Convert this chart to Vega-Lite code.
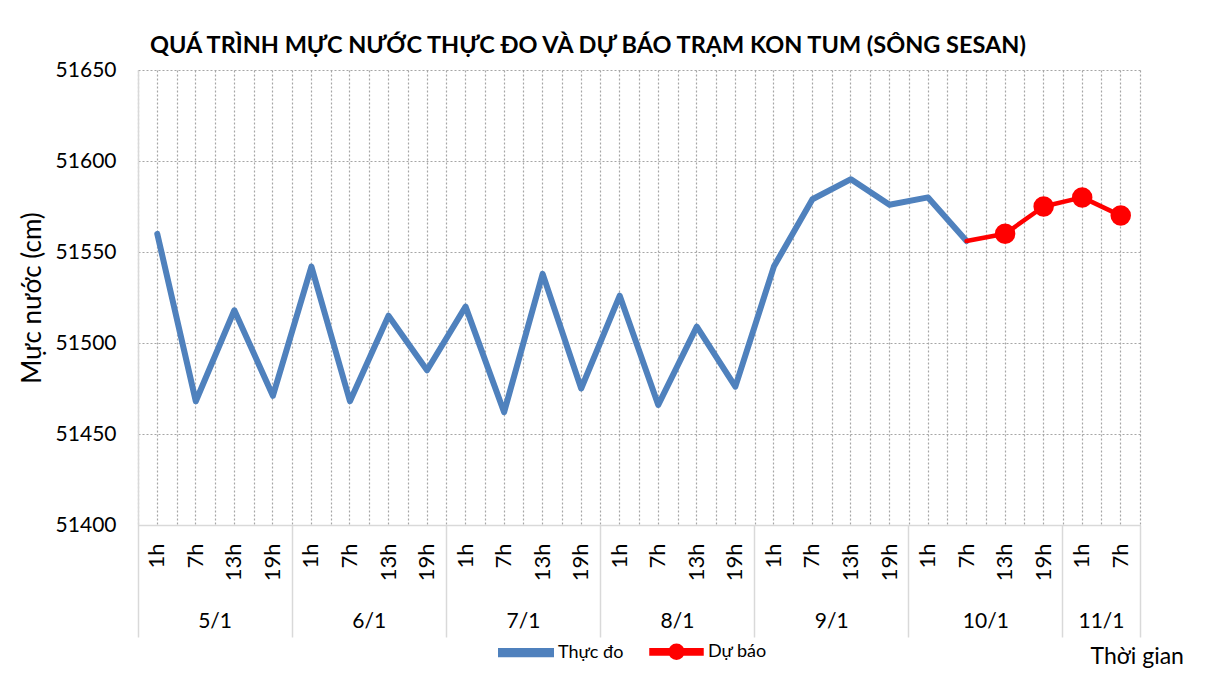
{
  "$schema": "https://vega.github.io/schema/vega-lite/v6.json",
  "autosize": {"type": "none"},
  "width": 1002,
  "height": 455,
  "padding": {"left": 138, "top": 70, "right": 72, "bottom": 150},
  "background": "#ffffff",
  "config": {
    "font": "Lato",
    "view": {"stroke": null},
    "axis": {"labelColor": "#000000", "titleColor": "#000000"}
  },
  "title": {
    "text": "QUÁ TRÌNH MỰC NƯỚC THỰC ĐO VÀ DỰ BÁO TRẠM KON TUM (SÔNG SESAN)",
    "anchor": "start",
    "frame": "group",
    "dx": 12,
    "offset": 2,
    "fontSize": 23.5,
    "font": "Lato",
    "fontWeight": "bold",
    "color": "#000000"
  },
  "data": {
    "values": [
      {"key": "5/1 1h", "series": "Thực đo", "value": 51560},
      {"key": "5/1 7h", "series": "Thực đo", "value": 51468},
      {"key": "5/1 13h", "series": "Thực đo", "value": 51518},
      {"key": "5/1 19h", "series": "Thực đo", "value": 51471},
      {"key": "6/1 1h", "series": "Thực đo", "value": 51542},
      {"key": "6/1 7h", "series": "Thực đo", "value": 51468},
      {"key": "6/1 13h", "series": "Thực đo", "value": 51515},
      {"key": "6/1 19h", "series": "Thực đo", "value": 51485},
      {"key": "7/1 1h", "series": "Thực đo", "value": 51520},
      {"key": "7/1 7h", "series": "Thực đo", "value": 51462},
      {"key": "7/1 13h", "series": "Thực đo", "value": 51538},
      {"key": "7/1 19h", "series": "Thực đo", "value": 51475},
      {"key": "8/1 1h", "series": "Thực đo", "value": 51526},
      {"key": "8/1 7h", "series": "Thực đo", "value": 51466},
      {"key": "8/1 13h", "series": "Thực đo", "value": 51509},
      {"key": "8/1 19h", "series": "Thực đo", "value": 51476},
      {"key": "9/1 1h", "series": "Thực đo", "value": 51542},
      {"key": "9/1 7h", "series": "Thực đo", "value": 51579},
      {"key": "9/1 13h", "series": "Thực đo", "value": 51590},
      {"key": "9/1 19h", "series": "Thực đo", "value": 51576},
      {"key": "10/1 1h", "series": "Thực đo", "value": 51580},
      {"key": "10/1 7h", "series": "Thực đo", "value": 51556},
      {"key": "10/1 7h", "series": "Dự báo", "value": 51556},
      {"key": "10/1 13h", "series": "Dự báo", "value": 51560},
      {"key": "10/1 19h", "series": "Dự báo", "value": 51575},
      {"key": "11/1 1h", "series": "Dự báo", "value": 51580},
      {"key": "11/1 7h", "series": "Dự báo", "value": 51570}
    ]
  },
  "encoding": {
    "y": {
      "field": "value",
      "type": "quantitative",
      "scale": {"domain": [51400, 51650], "nice": false, "zero": false},
      "axis": {
        "values": [51400, 51450, 51500, 51550, 51600, 51650],
        "format": "d",
        "title": "Mực nước (cm)",
        "titleFontSize": 26,
        "titleFontWeight": "normal",
        "titlePadding": 10,
        "labelFontSize": 21,
        "labelPadding": 22,
        "ticks": false,
        "domain": true,
        "domainColor": "#d9d9d9",
        "domainWidth": 1.5,
        "grid": true,
        "gridDash": [2, 2],
        "gridColor": "#a6a6a6",
        "gridWidth": 1.2
      }
    }
  },
  "resolve": {"axis": {"x": "independent"}},
  "layer": [
    {
      "mark": {"type": "line", "strokeJoin": "round", "strokeCap": "round"},
      "encoding": {
        "x": {
          "field": "key",
          "type": "nominal",
          "bandPosition": 0.5,
          "scale": {
            "type": "band",
            "paddingInner": 0,
            "paddingOuter": 0,
            "domain": ["5/1 1h", "5/1 7h", "5/1 13h", "5/1 19h", "6/1 1h", "6/1 7h", "6/1 13h", "6/1 19h", "7/1 1h", "7/1 7h", "7/1 13h", "7/1 19h", "8/1 1h", "8/1 7h", "8/1 13h", "8/1 19h", "9/1 1h", "9/1 7h", "9/1 13h", "9/1 19h", "10/1 1h", "10/1 7h", "10/1 13h", "10/1 19h", "11/1 1h", "11/1 7h"]
          },
          "axis": {
            "orient": "bottom",
            "title": null,
            "labelExpr": "split(datum.value, ' ')[1]",
            "labelAngle": 270,
            "labelFontSize": 22,
            "labelPadding": 18,
            "labelOverlap": false,
            "labelBound": false,
            "ticks": false,
            "domain": false,
            "grid": true,
            "gridDash": [2, 2],
            "gridColor": "#a6a6a6",
            "gridWidth": 1.2
          }
        },
        "color": {
          "field": "series",
          "type": "nominal",
          "scale": {"domain": ["Thực đo", "Dự báo"], "range": ["#4f81bd", "#ff0000"]},
          "legend": {
            "title": null,
            "orient": "none",
            "direction": "horizontal",
            "legendX": 360,
            "legendY": 554,
            "labelFontSize": 18,
            "labelColor": "#000000",
            "symbolSize": 2500,
            "columnPadding": 18,
            "labelOffset": 4,
            "encode": {
              "symbols": {
                "update": {
                  "shape": {"signal": "datum.value === 'Dự báo' ? 'M-1,-0.065H1V0.065H-1Z M0.24,0A0.24,0.24 0 1 1 -0.24,0A0.24,0.24 0 1 1 0.24,0Z' : 'M-1,-0.065H1V0.065H-1Z'"},
                  "fill": {"scale": "color", "field": "value"},
                  "strokeWidth": {"value": 0}
                }
              }
            }
          }
        },
        "strokeWidth": {
          "field": "series",
          "type": "nominal",
          "scale": {"domain": ["Thực đo", "Dự báo"], "range": [6, 4.5]},
          "legend": null
        }
      }
    },
    {
      "transform": [{"filter": "datum.series === 'Dự báo' && datum.key !== '10/1 7h'"}],
      "mark": {"type": "point", "filled": true, "opacity": 1, "size": 420, "color": "#ff0000"},
      "encoding": {
        "x": {
          "field": "key",
          "type": "nominal",
          "bandPosition": 0.5,
          "axis": {
            "orient": "bottom",
            "title": null,
            "tickBand": "extent",
            "labels": false,
            "ticks": false,
            "domain": false,
            "grid": true,
            "gridDash": [2, 2],
            "gridColor": "#a6a6a6",
            "gridWidth": 1.2
          }
        }
      }
    },
    {
      "mark": {"type": "point", "opacity": 0},
      "encoding": {
        "x": {
          "field": "key",
          "type": "nominal",
          "axis": {
            "orient": "bottom",
            "title": null,
            "values": ["5/1 1h", "6/1 1h", "7/1 1h", "8/1 1h", "9/1 1h", "10/1 1h", "11/1 1h"],
            "bandPosition": 0,
            "labels": false,
            "ticks": true,
            "tickSize": 112,
            "tickColor": "#d9d9d9",
            "tickWidth": 1.5,
            "domain": true,
            "domainColor": "#d9d9d9",
            "domainWidth": 1.5,
            "grid": false
          }
        }
      }
    },
    {
      "mark": {"type": "point", "opacity": 0},
      "encoding": {
        "x": {
          "field": "key",
          "type": "nominal",
          "axis": {
            "orient": "bottom",
            "title": null,
            "values": ["11/1 7h"],
            "bandPosition": 1,
            "labels": false,
            "ticks": true,
            "tickSize": 112,
            "tickColor": "#d9d9d9",
            "tickWidth": 1.5,
            "domain": false,
            "grid": false
          }
        }
      }
    },
    {
      "mark": {"type": "point", "opacity": 0},
      "encoding": {
        "x": {
          "field": "key",
          "type": "nominal",
          "axis": {
            "orient": "bottom",
            "values": ["5/1 7h", "6/1 7h", "7/1 7h", "8/1 7h", "9/1 7h", "10/1 7h", "11/1 1h"],
            "labelOffset": 19.27,
            "labelExpr": "split(datum.value, ' ')[0]",
            "labelAngle": 0,
            "labelFontSize": 21,
            "labelPadding": 85,
            "labelBaseline": "top",
            "labelOverlap": false,
            "labelBound": false,
            "ticks": false,
            "domain": false,
            "grid": false,
            "title": "Thời gian",
            "titleFontSize": 23,
            "titleFontWeight": "normal",
            "titleAlign": "left",
            "titleBaseline": "alphabetic",
            "titleAnchor": "start",
            "titleX": 952,
            "titleY": 138
          }
        }
      }
    }
  ]
}
